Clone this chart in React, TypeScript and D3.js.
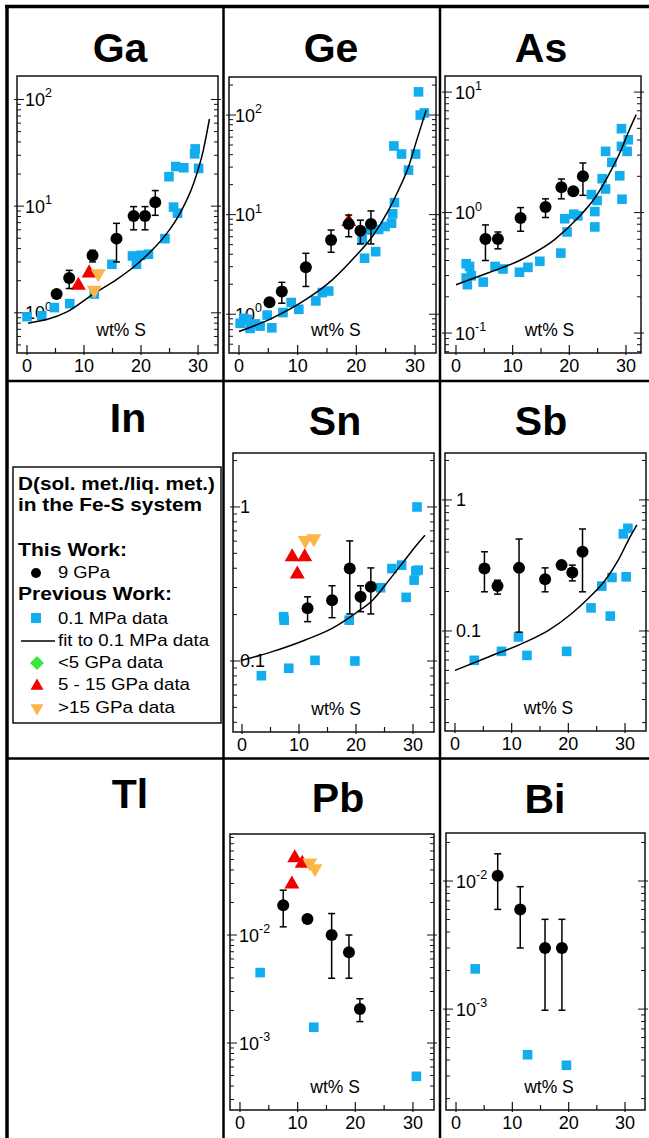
import React from 'react';
import * as d3 from 'd3';

type Pt = [number, number];
type EP = [number, number, number | null, number | null]; // x, D, low, high

// ===================== DATA =====================
// ---- Ga ----
const gaThisWork: EP[] = [[5.2, 1.5, null, null], [7.4, 2.12, 1.69, 2.5], [11.5, 3.44, 3.0, 3.85], [15.7, 4.96, 3.0, 6.9], [18.7, 8.07, 6.0, 9.9], [20.7, 8.07, 6.0, 9.9], [22.5, 10.9, 8.2, 14.0]];
const gaAmbient: Pt[] = [[0, 0.92], [2.6, 0.94], [4.8, 1.12], [7.5, 1.22], [11.8, 1.5], [14.9, 2.85], [18.5, 3.41], [19.2, 2.85], [20.0, 3.46], [21.3, 3.54], [24.2, 4.96], [24.9, 18.9], [26.1, 23.5], [27.5, 22.9], [25.7, 9.8], [26.4, 8.6], [29.5, 34.4], [29.4, 30.9], [30.1, 22.6]];
const gaFit: Pt[] = [[0.2, 0.8], [7.0, 1.02], [11.6, 1.5], [15.7, 2.05], [18.7, 2.69], [21.6, 3.71], [24.5, 5.52], [26.8, 8.5], [29.2, 16.2], [30.9, 33], [32.0, 65.6]];
const gaMidP: Pt[] = [[9.0, 1.81], [10.9, 2.36]];
const gaHighP: Pt[] = [[12.5, 2.33], [11.8, 1.63]];

// ---- Ge ----
const geThisWork: EP[] = [[5.2, 1.32, null, null], [7.3, 1.69, 1.29, 2.09], [11.4, 2.96, 1.9, 4.09], [15.7, 5.57, 4.19, 7.0], [18.7, 8.06, 6.0, 9.9], [20.7, 6.9, 5.08, 8.8], [22.5, 8.06, 5.08, 10.9]];
const geAmbient: Pt[] = [[0.2, 0.81], [0.8, 0.91], [1.4, 0.89], [1.9, 0.72], [2.8, 0.8], [3.6, 0.76], [4.8, 0.98], [5.6, 0.73], [7.5, 1.04], [8.9, 1.31], [10.2, 1.12], [13.1, 1.36], [14.2, 1.65], [15.3, 1.71], [21.4, 3.65], [23.3, 4.25], [21.0, 5.66], [22.4, 7.0], [23.8, 7.1], [24.9, 7.6], [26.0, 8.2], [26.2, 10.2], [26.5, 13.2], [26.4, 48.9], [27.7, 40.6], [28.9, 28], [30.1, 40.6], [30.6, 171], [30.9, 100], [31.6, 105]];
const geFit: Pt[] = [[0, 0.67], [5.6, 0.91], [11.3, 1.39], [15.9, 2.21], [19.8, 3.79], [22.7, 6.0], [25.5, 11.1], [27.2, 17.7], [28.9, 30.3], [30.3, 56], [31.9, 112]];
const geMidP: Pt[] = [[18.7, 8.5]];

// ---- As ----
const asThisWork: EP[] = [[5.2, 0.603, 0.4, 0.79], [7.4, 0.603, 0.5, 0.69], [11.4, 0.9, 0.7, 1.1], [15.8, 1.11, 0.91, 1.3], [18.6, 1.62, 1.3, 1.9], [20.7, 1.5, null, null], [22.4, 2.0, 1.39, 2.58]];
const asAmbient: Pt[] = [[1.8, 0.376], [2.4, 0.357], [1.8, 0.286], [2.0, 0.252], [2.7, 0.299], [4.8, 0.265], [6.9, 0.357], [8.3, 0.34], [11.2, 0.32], [12.7, 0.351], [14.8, 0.394], [18.5, 0.461], [19.2, 0.889], [19.6, 0.69], [20.8, 0.97], [21.5, 0.94], [23.9, 1.41], [24.9, 1.26], [24.5, 1.02], [24.5, 0.76], [25.8, 1.91], [26.4, 3.22], [26.4, 1.57], [27.5, 2.61], [28.9, 2.02], [29.2, 4.97], [29.2, 3.54], [30.4, 4.02], [30.2, 3.22], [29.3, 1.29]];
const asFit: Pt[] = [[0, 0.252], [5.6, 0.315], [11.5, 0.406], [17.4, 0.596], [21.5, 0.9], [24.5, 1.32], [26.8, 2.0], [28.9, 3.12], [30.6, 4.87], [31.8, 6.5]];

// ---- Sn ----
const snThisWork: EP[] = [[11.5, 0.22, 0.18, 0.261], [15.8, 0.248, 0.191, 0.308], [18.9, 0.398, 0.202, 0.602], [20.8, 0.261, 0.209, 0.308], [22.6, 0.303, 0.202, 0.402]];
const snAmbient: Pt[] = [[3.4, 0.0803], [8.2, 0.0897], [7.3, 0.194], [7.4, 0.184], [12.8, 0.101], [18.8, 0.184], [19.8, 0.1], [24.3, 0.299], [26.3, 0.398], [28.0, 0.419], [28.8, 0.259], [30.2, 0.335], [30.5, 0.385], [30.9, 0.389], [30.7, 1.0]];
const snFit: Pt[] = [[0, 0.101], [5.3, 0.115], [11.1, 0.137], [15.8, 0.163], [19.9, 0.204], [22.9, 0.248], [25.8, 0.335], [28.1, 0.43], [29.9, 0.524], [32.1, 0.655]];
const snMidP: Pt[] = [[8.8, 0.474], [11.0, 0.474], [9.7, 0.366]];
const snHighP: Pt[] = [[11.1, 0.608], [12.6, 0.624]];

// ---- Sb ----
const sbThisWork: EP[] = [[5.2, 0.30, 0.199, 0.402], [7.5, 0.22, 0.191, 0.244], [11.3, 0.303, 0.098, 0.503], [15.9, 0.248, 0.199, 0.303], [18.8, 0.318, null, null], [20.7, 0.279, 0.241, 0.318], [22.5, 0.402, 0.199, 0.6]];
const sbAmbient: Pt[] = [[3.4, 0.0597], [8.2, 0.0699], [11.2, 0.09], [12.7, 0.0651], [19.7, 0.0699], [24.0, 0.15], [25.9, 0.22], [27.4, 0.13], [27.7, 0.256], [29.7, 0.55], [30.5, 0.607], [30.2, 0.259]];
const sbFit: Pt[] = [[0, 0.05], [5.9, 0.0633], [11.8, 0.08], [16.5, 0.101], [20.6, 0.136], [23.5, 0.177], [26.5, 0.244], [28.8, 0.347], [30.6, 0.494], [32.1, 0.644]];

// ---- Pb ----
const pbThisWork: EP[] = [[7.5, 0.0189, 0.0119, 0.026], [11.7, 0.0141, null, null], [15.9, 0.01, 0.00398, 0.0158], [18.9, 0.00692, 0.00398, 0.01], [20.8, 0.00207, 0.00158, 0.00257]];
const pbAmbient: Pt[] = [[3.5, 0.00449], [12.8, 0.0014], [30.6, 0.000492]];
const pbMidP: Pt[] = [[9.5, 0.0518], [10.8, 0.0459], [9.0, 0.0296]];
const pbHighP: Pt[] = [[12.1, 0.0466], [13.0, 0.0412]];

// ---- Bi ----
const biThisWork: EP[] = [[7.4, 0.011, 0.006, 0.0163], [11.4, 0.006, 0.003, 0.00903], [15.8, 0.003, 0.00098, 0.00502], [18.8, 0.003, 0.00098, 0.00502]];
const biAmbient: Pt[] = [[3.4, 0.00206], [12.7, 0.00044], [19.6, 0.000364]];

const xTickValues = [0, 10, 20, 30];
const xMinorValues = [5, 15, 25];
const xAxisLabel = 'wt% S';

const legendTitle = ['D(sol. met./liq. met.)', 'in the Fe-S system'];
const legendThisWork = 'This Work:';
const legendPrevWork = 'Previous Work:';
const legendItems = ['9 GPa', '0.1 MPa data', 'fit to 0.1 MPa data', '<5 GPa data', '5 - 15 GPa data', '>15 GPa data'];

// ===================== STYLE / LAYOUT =====================
const FONT = "'Liberation Sans', Arial, Helvetica, sans-serif";
const BLUE = '#12ADEF';
const RED = '#F20000';
const ORANGE = '#FDB44B';
const GREEN = '#3CE63C';

type Frame = { x0: number; x1: number; y0: number; y1: number };
type PanelCfg = {
  title: string; tx: number; ty: number;
  frame?: Frame; xDomain?: [number, number]; yDomain?: [number, number];
  labelDx?: number; plain?: boolean;
  thisWork?: EP[]; ambient?: Pt[]; fit?: Pt[]; mid?: Pt[]; high?: Pt[];
};

const panels: PanelCfg[] = [
  { title: 'Ga', tx: 120, ty: 62, frame: { x0: 17, x1: 218, y0: 76, y1: 353 }, xDomain: [-1.75, 33.5], yDomain: [0.42, 166], labelDx: 8, thisWork: gaThisWork, ambient: gaAmbient, fit: gaFit, mid: gaMidP, high: gaHighP },
  { title: 'Ge', tx: 331, ty: 62, frame: { x0: 229, x1: 436, y0: 77, y1: 353 }, xDomain: [-1.7, 33.58], yDomain: [0.408, 241], labelDx: 6, thisWork: geThisWork, ambient: geAmbient, fit: geFit, mid: geMidP },
  { title: 'As', tx: 541, ty: 62, frame: { x0: 445, x1: 641, y0: 76, y1: 353 }, xDomain: [-1.94, 32.65], yDomain: [0.0683, 13.6], labelDx: 10, thisWork: asThisWork, ambient: asAmbient, fit: asFit },
  { title: 'In', tx: 128, ty: 432 },
  { title: 'Sn', tx: 335, ty: 435, frame: { x0: 233, x1: 434, y0: 453, y1: 732 }, xDomain: [-1.58, 33.68], yDomain: [0.0346, 2.24], labelDx: 7, plain: true, thisWork: snThisWork, ambient: snAmbient, fit: snFit, mid: snMidP, high: snHighP },
  { title: 'Sb', tx: 541, ty: 435, frame: { x0: 445, x1: 646, y0: 453, y1: 731 }, xDomain: [-1.76, 33.7], yDomain: [0.01725, 2.28], labelDx: 11, plain: true, thisWork: sbThisWork, ambient: sbAmbient, fit: sbFit },
  { title: 'Tl', tx: 130, ty: 808 },
  { title: 'Pb', tx: 338, ty: 812, frame: { x0: 230, x1: 434, y0: 834, y1: 1110 }, xDomain: [-1.73, 33.65], yDomain: [0.00024, 0.0861], labelDx: 9, thisWork: pbThisWork, ambient: pbAmbient, mid: pbMidP, high: pbHighP },
  { title: 'Bi', tx: 545, ty: 813, frame: { x0: 446, x1: 645, y0: 833, y1: 1110 }, xDomain: [-1.78, 33.55], yDomain: [0.000163, 0.0237], labelDx: 10, thisWork: biThisWork, ambient: biAmbient },
];

const triUp = (s: number) => {
  const h = s * 0.87;
  return `M0,${-h * 2 / 3}L${s / 2},${h / 3}L${-s / 2},${h / 3}Z`;
};
const triDown = (s: number) => {
  const h = s * 0.87;
  return `M0,${h * 2 / 3}L${s / 2},${-h / 3}L${-s / 2},${-h / 3}Z`;
};

function Panel({ cfg }: { cfg: PanelCfg }) {
  const title = (
    <text x={cfg.tx} y={cfg.ty} textAnchor="middle" fontFamily={FONT} fontWeight="bold" fontSize={41}>{cfg.title}</text>
  );
  if (!cfg.frame) return <g>{title}</g>;
  const f = cfg.frame;
  const x = d3.scaleLinear().domain(cfg.xDomain!).range([f.x0, f.x1]);
  const y = d3.scaleLog().domain(cfg.yDomain!).range([f.y1, f.y0]);
  const [lo, hi] = cfg.yDomain!;
  const yTicks: { v: number; major: boolean; e: number }[] = [];
  for (let e = Math.floor(Math.log10(lo)); e <= Math.ceil(Math.log10(hi)); e++) {
    for (let m = 1; m <= 9; m++) {
      const v = m * Math.pow(10, e);
      if (v >= lo && v <= hi) yTicks.push({ v, major: m === 1, e });
    }
  }
  const line = d3.line<Pt>().x(d => x(d[0])).y(d => y(d[1])).curve(d3.curveMonotoneX);
  return (
    <g>
      {title}
      <rect x={f.x0} y={f.y0} width={f.x1 - f.x0} height={f.y1 - f.y0} fill="white" stroke="#111" strokeWidth={1.5} />
      {yTicks.map((t, i) => {
        const yy = y(t.v);
        const L = t.major ? 7 : 4;
        const out = t.major ? 3 : 0;
        return (
          <g key={'yt' + i} stroke="#111" strokeWidth={1}>
            <line x1={f.x0 - out} x2={f.x0 + L} y1={yy} y2={yy} />
            <line x1={f.x1 + out} x2={f.x1 - L} y1={yy} y2={yy} />
          </g>
        );
      })}
      {xTickValues.map(v => (
        <g key={'xt' + v}>
          <line x1={x(v)} x2={x(v)} y1={f.y1 + 2} y2={f.y1 - 8} stroke="#111" strokeWidth={1.2} />
          <text x={x(v)} y={f.y1 + 19} textAnchor="middle" fontFamily={FONT} fontSize={18}>{v}</text>
        </g>
      ))}
      {xMinorValues.map(v => (
        <line key={'xm' + v} x1={x(v)} x2={x(v)} y1={f.y1} y2={f.y1 - 5} stroke="#111" strokeWidth={1.2} />
      ))}
      {yTicks.filter(t => t.major).map(t => (
        <text key={'yl' + t.e} x={f.x0 + (cfg.labelDx || 8)} y={y(t.v) + 6.5} fontFamily={FONT} fontSize={18}>
          {cfg.plain ? (t.e === 0 ? '1' : String(t.v)) : (
            <>10<tspan dy={-8.5} fontSize={12.5}>{String(t.e)}</tspan></>
          )}
        </text>
      ))}
      <text x={x(16.5)} y={f.y1 - 17} textAnchor="middle" fontFamily={FONT} fontSize={17.5}>{xAxisLabel}</text>
      {(cfg.ambient || []).map((d, i) => (
        <rect key={'a' + i} x={x(d[0]) - 4.8} y={y(d[1]) - 4.8} width={9.6} height={9.6} fill={BLUE} />
      ))}
      {cfg.fit && <path d={line(cfg.fit) || ''} fill="none" stroke="#000" strokeWidth={1.5} />}
      {(cfg.mid || []).map((d, i) => (
        <path key={'m' + i} transform={`translate(${x(d[0])},${y(d[1])})`} d={triUp(15)} fill={RED} />
      ))}
      {(cfg.high || []).map((d, i) => (
        <path key={'h' + i} transform={`translate(${x(d[0])},${y(d[1])})`} d={triDown(15)} fill={ORANGE} />
      ))}
      {(cfg.thisWork || []).map((d, i) => {
        const cx = x(d[0]);
        return (
          <g key={'t' + i}>
            {d[2] != null && d[3] != null && (
              <g stroke="#000" strokeWidth={1.5}>
                <line x1={cx} x2={cx} y1={y(d[2])} y2={y(d[3])} />
                <line x1={cx - 3.5} x2={cx + 3.5} y1={y(d[2])} y2={y(d[2])} />
                <line x1={cx - 3.5} x2={cx + 3.5} y1={y(d[3])} y2={y(d[3])} />
              </g>
            )}
            <circle cx={cx} cy={y(d[1])} r={6} fill="#000" />
          </g>
        );
      })}
    </g>
  );
}

function Legend() {
  const bx = 13, by = 467, bw = 208, bh = 256;
  const tx = 58;
  const baseRegular = [578, 624, 646, 668, 690, 713];
  const lengths = [52, 110, 151, 105, 132, 117];
  return (
    <g fontFamily={FONT}>
      <rect x={bx} y={by} width={bw} height={bh} fill="white" stroke="#111" strokeWidth={1.5} />
      <text x={18} y={490} fontWeight="bold" fontSize={17.5} textLength={197} lengthAdjust="spacingAndGlyphs">{legendTitle[0]}</text>
      <text x={18} y={511} fontWeight="bold" fontSize={17.5} textLength={184} lengthAdjust="spacingAndGlyphs">{legendTitle[1]}</text>
      <text x={18} y={556} fontWeight="bold" fontSize={17.5} textLength={109} lengthAdjust="spacingAndGlyphs">{legendThisWork}</text>
      <text x={18} y={600} fontWeight="bold" fontSize={17.5} textLength={154} lengthAdjust="spacingAndGlyphs">{legendPrevWork}</text>
      {legendItems.map((s, i) => (
        <text key={s} x={tx} y={baseRegular[i]} fontSize={17} textLength={lengths[i]} lengthAdjust="spacingAndGlyphs">{s}</text>
      ))}
      <circle cx={36} cy={573} r={5} fill="#000" />
      <rect x={31} y={613} width={10} height={10} fill={BLUE} />
      <line x1={21} x2={55} y1={641} y2={641} stroke="#000" strokeWidth={1.3} />
      <path transform="translate(37,663)" d="M0,-7L7,0L0,7L-7,0Z" fill={GREEN} />
      <path transform="translate(37,686)" d={triUp(13)} fill={RED} />
      <path transform="translate(37,708)" d={triDown(13)} fill={ORANGE} />
    </g>
  );
}

export default function App() {
  return (
    <div style={{ position: 'absolute', left: 0, top: 0 }}>
      <svg width={649} height={1138} style={{ display: 'block', background: 'white' }}>
        <rect x={0} y={0} width={649} height={1138} fill="white" />
        {panels.map(p => <Panel key={p.title} cfg={p} />)}
        <Legend />
        <g stroke="#000">
          <line x1={5} x2={649} y1={6.5} y2={6.5} strokeWidth={3.5} />
          <line x1={7} x2={7} y1={5} y2={1138} strokeWidth={3.5} />
          <line x1={223.5} x2={223.5} y1={6} y2={1138} strokeWidth={2.5} />
          <line x1={440} x2={440} y1={6} y2={1138} strokeWidth={2.5} />
          <line x1={7} x2={649} y1={381} y2={381} strokeWidth={2.5} />
          <line x1={7} x2={649} y1={758.5} y2={758.5} strokeWidth={2.5} />
        </g>
      </svg>
    </div>
  );
}
